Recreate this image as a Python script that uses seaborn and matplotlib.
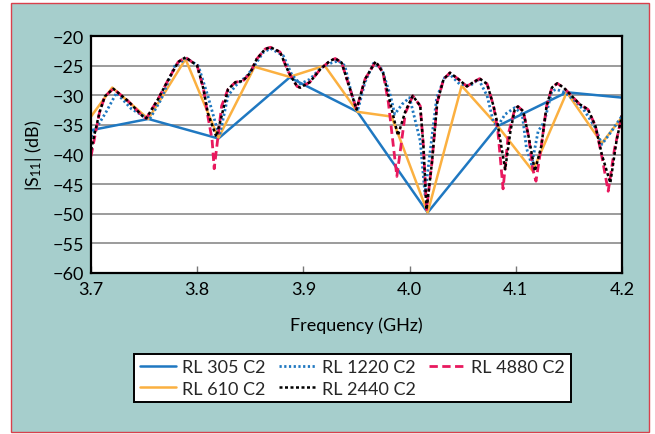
import numpy as np
import pandas as pd
import matplotlib
matplotlib.use("Agg")
import matplotlib.pyplot as plt
import seaborn as sns
from matplotlib.patches import Rectangle
from matplotlib.lines import Line2D

# ---------------- data ----------------
rl305_f = [3.700, 3.754, 3.820, 3.887, 3.951, 4.017, 4.083, 4.148, 4.200]
rl305_s = [-35.9, -34.0, -37.3, -27.0, -32.8, -49.8, -35.2, -29.5, -30.4]

rl610_f = [3.700, 3.720, 3.754, 3.789, 3.820, 3.854, 3.887, 3.920, 3.951,
           3.983, 4.017, 4.049, 4.083, 4.116, 4.148, 4.181, 4.200]
rl610_s = [-33.6, -28.7, -34.0, -23.9, -37.2, -25.2, -26.9, -25.0, -32.8,
           -33.6, -49.8, -28.4, -35.2, -42.8, -29.5, -38.1, -33.7]

rl1220_f = [3.700, 3.714, 3.724, 3.738, 3.755, 3.766, 3.779, 3.790, 3.801,
            3.810, 3.818, 3.821, 3.825, 3.829, 3.836, 3.847, 3.854, 3.862,
            3.869, 3.881, 3.889, 3.897, 3.906, 3.917, 3.927, 3.933, 3.939,
            3.945, 3.951, 3.958, 3.966, 3.974, 3.982, 3.986, 3.993, 4.000,
            4.010, 4.0145, 4.019, 4.0255, 4.033, 4.038, 4.047, 4.057, 4.065,
            4.073, 4.079, 4.083, 4.090, 4.099, 4.106, 4.110, 4.115, 4.121,
            4.127, 4.134, 4.138, 4.146, 4.156, 4.165, 4.175, 4.181, 4.190,
            4.200]
rl1220_s = [-37.0, -32.9, -29.6, -32.3, -34.1, -30.7, -25.0, -23.8, -25.0,
            -30.1, -35.2, -36.8, -33.5, -30.1, -28.4, -26.7, -25.0, -22.8,
            -22.1, -23.3, -26.5, -28.1, -27.3, -25.3, -24.5, -24.2, -25.0,
            -29.5, -32.7, -27.8, -24.6, -25.6, -30.1, -33.2, -31.5, -30.4,
            -37.7, -46.8, -40.0, -30.4, -27.0, -26.5, -28.1, -28.4, -27.3,
            -30.1, -34.6, -35.2, -33.2, -32.1, -33.2, -38.9, -41.7, -36.1,
            -34.4, -29.3, -29.0, -29.5, -31.0, -32.7, -35.5, -38.3, -36.1,
            -33.5]

rl2440_f = [3.700, 3.708, 3.713, 3.721, 3.735, 3.749, 3.752, 3.763, 3.773,
            3.782, 3.789, 3.800, 3.806, 3.810, 3.818, 3.823, 3.829, 3.836,
            3.843, 3.850, 3.856, 3.864, 3.869, 3.878, 3.886, 3.894, 3.897,
            3.906, 3.916, 3.925, 3.930, 3.936, 3.944, 3.950, 3.958, 3.968,
            3.975, 3.982, 3.989, 3.996, 4.003, 4.010, 4.013, 4.016, 4.021,
            4.026, 4.032, 4.038, 4.046, 4.054, 4.060, 4.066, 4.073, 4.079,
            4.083, 4.090, 4.095, 4.099, 4.102, 4.107, 4.112, 4.118, 4.124,
            4.129, 4.134, 4.139, 4.145, 4.151, 4.160, 4.168, 4.175, 4.181,
            4.189, 4.195, 4.200]
rl2440_s = [-39.2, -32.9, -30.2, -28.9, -31.0, -33.6, -33.9, -30.7, -27.3,
            -24.4, -23.6, -25.0, -29.0, -33.0, -37.0, -33.5, -29.0, -27.8,
            -27.6, -26.2, -23.9, -22.2, -21.9, -22.7, -26.1, -28.5, -28.7,
            -27.8, -25.6, -24.2, -23.8, -24.5, -29.0, -32.4, -27.3, -24.3,
            -26.2, -31.5, -36.8, -32.7, -30.1, -31.8, -38.6, -49.3, -41.4,
            -31.2, -27.3, -26.2, -27.3, -28.5, -27.8, -27.2, -28.1, -31.8,
            -35.0, -42.5, -36.0, -32.4, -31.9, -32.7, -36.9, -42.8, -38.6,
            -31.8, -28.7, -28.0, -28.7, -29.8, -31.5, -32.4, -35.2, -40.0,
            -44.8, -37.5, -33.4]

rl4880_f = [3.700, 3.708, 3.713, 3.721, 3.735, 3.749, 3.752, 3.763, 3.773,
            3.782, 3.789, 3.800, 3.806, 3.810, 3.814, 3.816, 3.823, 3.829,
            3.836, 3.843, 3.850, 3.856, 3.864, 3.869, 3.878, 3.886, 3.894,
            3.897, 3.906, 3.916, 3.925, 3.930, 3.936, 3.944, 3.950, 3.958,
            3.968, 3.975, 3.980, 3.988, 3.996, 4.003, 4.010, 4.013, 4.016,
            4.021, 4.026, 4.032, 4.038, 4.046, 4.054, 4.060, 4.066, 4.073,
            4.079, 4.083, 4.088, 4.093, 4.099, 4.102, 4.107, 4.112, 4.116,
            4.119, 4.124, 4.129, 4.134, 4.139, 4.145, 4.151, 4.160, 4.168,
            4.175, 4.181, 4.187, 4.193, 4.200]
rl4880_s = [-40.3, -32.9, -30.2, -28.9, -31.0, -33.6, -33.9, -30.7, -27.3,
            -24.4, -23.6, -25.0, -29.0, -33.5, -37.5, -42.4, -31.8, -29.0,
            -27.8, -27.6, -26.2, -23.9, -22.2, -21.9, -22.7, -26.1, -28.5,
            -28.7, -27.8, -25.6, -24.2, -23.8, -24.5, -29.0, -32.4, -27.3,
            -24.3, -26.2, -31.2, -43.7, -33.0, -30.1, -31.8, -38.6, -49.3,
            -41.4, -31.2, -27.3, -26.2, -27.3, -28.5, -27.8, -27.2, -28.1,
            -31.8, -35.8, -45.8, -36.5, -32.4, -31.9, -32.7, -36.9, -42.5,
            -44.5, -38.6, -31.8, -28.7, -28.0, -28.7, -29.8, -31.5, -32.4,
            -35.2, -40.3, -46.2, -39.0, -33.4]

series_names = ["RL 305 C2", "RL 610 C2", "RL 1220 C2", "RL 2440 C2", "RL 4880 C2"]
x_ticks = [3.7, 3.8, 3.9, 4.0, 4.1, 4.2]
y_ticks = [-60, -55, -50, -45, -40, -35, -30, -25, -20]
x_label = "Frequency (GHz)"
y_label = "|S$_{\\mathregular{11}}$| (dB)"

# ---------------- styling ----------------
sns.set_theme(style="white")
plt.rcParams['font.family'] = ['Lato', 'DejaVu Sans']
plt.rcParams['mathtext.fontset'] = 'custom'
plt.rcParams['mathtext.rm'] = 'Lato'
plt.rcParams['mathtext.it'] = 'Lato:italic'
plt.rcParams['axes.unicode_minus'] = True

TEAL = "#a6cecc"
RED = "#d9404c"
BLUE = "#1f78c1"
ORANGE = "#fbb040"
PINK = "#e8195e"
BLACK = "#000000"

styles = {
    "RL 305 C2": dict(color=BLUE, linestyle="-", linewidth=1.8),
    "RL 610 C2": dict(color=ORANGE, linestyle="-", linewidth=1.8),
    "RL 1220 C2": dict(color=BLUE, linestyle=(0, (0.8, 0.9)), linewidth=2.0),
    "RL 2440 C2": dict(color=BLACK, linestyle=(0, (1.2, 1.0)), linewidth=1.8),
    "RL 4880 C2": dict(color=PINK, linestyle=(0, (3.0, 1.6)), linewidth=2.0),
}

W, H = 655, 435
fig = plt.figure(figsize=(W / 100, H / 100), dpi=100)
fig.patch.set_facecolor("white")
bg = Rectangle((11 / W, 2 / H), (649 - 11) / W, (433 - 4) / H,
               transform=fig.transFigure, facecolor=TEAL,
               edgecolor=RED, linewidth=1.0, zorder=-10)
fig.patches.append(bg)

ax = fig.add_axes([91 / W, 1 - 274 / H, (622 - 91) / W, (274 - 37) / H])
ax.set_zorder(1)
ax.set_facecolor("white")

data = {
    "RL 305 C2": (rl305_f, rl305_s),
    "RL 610 C2": (rl610_f, rl610_s),
    "RL 1220 C2": (rl1220_f, rl1220_s),
    "RL 4880 C2": (rl4880_f, rl4880_s),
    "RL 2440 C2": (rl2440_f, rl2440_s),
}
for z, (name, (f, s)) in enumerate(data.items()):
    df = pd.DataFrame({"freq": f, "s11": s})
    sns.lineplot(data=df, x="freq", y="s11", ax=ax, estimator=None, sort=False,
                 legend=False, zorder=3 + z, **styles[name])

ax.set_xlim(3.7, 4.2)
ax.set_ylim(-60, -20)
ax.set_xticks(x_ticks)
ax.set_xticklabels([f"{v:.1f}" for v in x_ticks])
ax.set_yticks(y_ticks)
ax.set_yticklabels([f"\u2212{abs(v)}" for v in y_ticks])
ax.yaxis.grid(True, color="#8a8a8a", linewidth=1.2)
ax.xaxis.grid(False)
ax.set_axisbelow(True)
for sp in ax.spines.values():
    sp.set_color("black")
    sp.set_linewidth(1.6)
    sp.set_zorder(20)
ax.tick_params(axis="x", direction="in", length=5, width=1, color="#777777",
               labelsize=13, pad=6, labelcolor="black", bottom=True)
ax.tick_params(axis="y", length=0, labelsize=13, pad=5, labelcolor="black")
ax.set_xlabel(x_label, fontsize=13, labelpad=14, color="black")
ax.set_ylabel(y_label, fontsize=13, labelpad=6, color="black")

handles = [Line2D([], [], **styles[n]) for n in series_names]
leg = fig.legend(handles, series_names, ncol=3, loc="center",
                 bbox_to_anchor=(352.5 / W, 1 - 379 / H),
                 bbox_transform=fig.transFigure, fontsize=13,
                 frameon=True, fancybox=False, handlelength=2.0,
                 handletextpad=0.35, columnspacing=0.75, labelspacing=0.3,
                 borderpad=0.3)
leg.set_zorder(5)
leg.get_frame().set_edgecolor("black")
leg.get_frame().set_linewidth(1.4)
leg.get_frame().set_facecolor("white")
leg.get_frame().set_alpha(1)

fig.savefig("out.png", dpi=100, facecolor=fig.get_facecolor())
